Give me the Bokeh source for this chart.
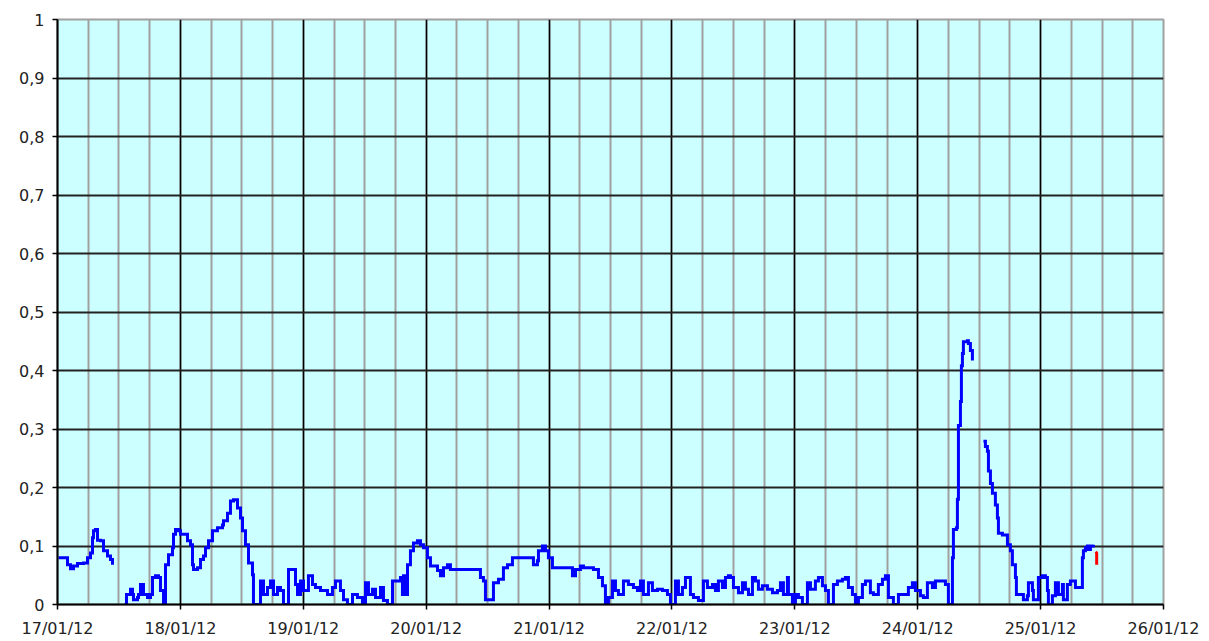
from bokeh.plotting import figure
from bokeh.models import FixedTicker, Range1d
from bokeh.embed import file_html
from bokeh.resources import INLINE

# ---- data: hours since 17/01/12 00:00 and measured values ----
seg1_hours = [0.2, 1.56, 1.95, 2.54, 3.12, 3.91, 5.08, 5.86, 6.44, 6.83, 7.03, 7.42, 7.81, 8.40, 8.98, 9.76, 10.35, 10.74]
seg1_vals = [0.08, 0.08, 0.068, 0.061, 0.066, 0.07, 0.071, 0.08, 0.088, 0.114, 0.126, 0.128, 0.11, 0.109, 0.092, 0.083, 0.077, 0.068]

seg2_hours = [13.08, 13.47, 14.26, 14.65, 14.84, 15.62, 15.82, 16.21, 16.79, 17.58, 18.16, 18.55, 19.14, 19.72, 20.11, 20.70,
              21.09, 21.68, 22.46, 22.65, 23.04, 23.63, 24.02, 24.60, 25.39, 25.97, 26.36, 26.56, 27.34, 27.93, 28.51, 28.90,
              29.49, 30.27, 31.24, 32.22, 32.42, 33.20, 33.78, 34.37, 35.15, 35.74, 36.13, 36.71, 37.30, 38.08, 38.27,
              39.06, 39.65, 40.23, 41.01, 41.60, 42.18, 42.97, 43.55, 44.13, 45.11, 45.89, 46.48, 46.87, 47.45, 48.04,
              49.01, 49.80, 50.38, 51.36, 52.73, 53.70, 54.29, 55.26, 55.85, 56.63, 57.61, 58.58, 59.56, 60.15, 60.73,
              61.51, 62.10, 63.08, 63.66, 64.44, 65.42, 66.40, 66.98, 67.37, 67.57, 67.96, 68.35, 68.93, 69.52, 70.30,
              70.89, 71.47, 72.25, 72.84, 74.21, 74.79, 75.38, 76.16, 76.74, 82.02, 82.60, 83.19, 83.58, 84.56, 85.14,
              86.12, 87.09, 87.88, 88.85, 92.76, 92.95, 93.73, 93.93, 94.71, 95.30, 95.88, 96.66, 100.18, 100.57,
              101.16, 102.13, 102.72, 104.67, 105.65, 106.43, 107.01, 107.60, 108.38, 108.97, 109.55, 110.53, 111.50,
              112.48, 113.26, 113.85, 114.43, 115.41, 116.19, 117.17, 118.14, 119.12, 119.71, 120.68, 121.27, 122.05,
              122.64, 123.22, 123.61, 124.20, 125.17, 126.15, 126.93, 127.91, 128.49, 129.08, 129.86, 130.45, 131.03,
              131.42, 132.01, 132.99, 133.77, 134.35, 134.94, 135.72, 136.31, 136.89, 137.67, 138.65, 139.63, 140.60,
              141.19, 141.77, 142.55, 142.75, 143.53, 144.12, 144.70, 145.48, 146.46, 147.05, 148.02, 148.61, 149.39,
              149.98, 150.56, 151.54, 152.32, 153.29, 153.88, 154.47, 155.25, 155.83, 156.42, 157.20, 157.79, 158.76,
              159.35, 160.32, 161.11, 161.69, 162.28, 163.25, 164.23, 165.21, 166.18, 166.96, 167.55, 168.53, 169.11,
              169.89, 170.87, 171.46, 172.43, 173.41, 173.99, 174.78, 174.97, 175.56, 175.75, 175.95, 176.34, 176.53,
              176.73, 176.92, 177.70, 177.90, 178.29, 178.68]
seg2_vals = [0.0, 0.017, 0.026, 0.017, 0.008, 0.012, 0.017, 0.034, 0.017, 0.012, 0.017, 0.046, 0.049, 0.046, 0.024, 0.0,
             0.068, 0.085, 0.097, 0.12, 0.128, 0.126, 0.12, 0.12, 0.109, 0.102, 0.068, 0.06, 0.063, 0.077, 0.083, 0.097,
             0.109, 0.126, 0.131, 0.136, 0.143, 0.156, 0.177, 0.179, 0.165, 0.148, 0.126, 0.102, 0.071, 0.051, 0.0,
             0.0, 0.04, 0.017, 0.029, 0.04, 0.017, 0.029, 0.024, 0.0, 0.06, 0.06, 0.034, 0.017, 0.04, 0.024,
             0.049, 0.034, 0.029, 0.024, 0.017, 0.029, 0.04, 0.024, 0.008, 0.0, 0.017, 0.012, 0.0, 0.037, 0.017,
             0.026, 0.012, 0.029, 0.007, 0.0, 0.04, 0.04, 0.046, 0.017, 0.049, 0.017, 0.068, 0.092, 0.105, 0.109,
             0.102, 0.097, 0.08, 0.066, 0.058, 0.049, 0.063, 0.068, 0.06, 0.06, 0.046, 0.04, 0.008, 0.008, 0.037,
             0.043, 0.063, 0.068, 0.08, 0.08, 0.068, 0.075, 0.092, 0.1, 0.092, 0.08, 0.063, 0.063, 0.049,
             0.06, 0.066, 0.063, 0.06, 0.046, 0.032, 0.0, 0.012, 0.04, 0.024, 0.017, 0.04, 0.034,
             0.029, 0.024, 0.04, 0.017, 0.037, 0.024, 0.026, 0.024, 0.017, 0.0, 0.04, 0.017, 0.029,
             0.046, 0.046, 0.017, 0.012, 0.007, 0.04, 0.029, 0.034, 0.024, 0.04, 0.029, 0.046, 0.049,
             0.046, 0.029, 0.02, 0.037, 0.026, 0.017, 0.046, 0.04, 0.026, 0.032, 0.026, 0.02, 0.024,
             0.037, 0.017, 0.046, 0.017, 0.0, 0.017, 0.012, 0.0, 0.037, 0.026, 0.04, 0.046, 0.032,
             0.024, 0.0, 0.034, 0.04, 0.043, 0.046, 0.029, 0.017, 0.0, 0.012, 0.034, 0.04, 0.02,
             0.017, 0.034, 0.043, 0.049, 0.012, 0.0, 0.017, 0.017, 0.029, 0.037, 0.024, 0.015, 0.012,
             0.037, 0.029, 0.04, 0.04, 0.034, 0.0, 0.08, 0.128, 0.131, 0.18, 0.306, 0.347, 0.408,
             0.429, 0.449, 0.451, 0.446, 0.434, 0.417]

seg3_hours = [180.83, 181.22, 181.61, 181.81, 182.20, 182.59, 183.17, 183.56, 183.76, 184.54, 185.52, 186.10, 186.49,
              187.08, 187.27, 188.05, 188.64, 189.42, 189.62, 190.40, 190.59, 191.37, 191.57, 192.35, 192.94, 193.33,
              193.52, 194.30, 194.89, 195.48, 196.26, 196.45, 197.23, 197.82, 198.80, 199.77, 200.16, 200.36, 200.75,
              201.14, 201.33, 201.73, 202.31]
seg3_vals = [0.279, 0.27, 0.262, 0.228, 0.207, 0.19, 0.17, 0.148, 0.122, 0.119, 0.102, 0.092, 0.068,
             0.046, 0.017, 0.017, 0.008, 0.015, 0.037, 0.024, 0.008, 0.008, 0.046, 0.049, 0.046, 0.024,
             0.0, 0.015, 0.037, 0.017, 0.034, 0.008, 0.034, 0.04, 0.029, 0.029, 0.08, 0.092, 0.097,
             0.1, 0.094, 0.1, 0.102]

red_hours = [202.75, 202.95, 202.95]
red_vals = [0.09, 0.088, 0.068]

x_ticks = [0, 24, 48, 72, 96, 120, 144, 168, 192, 216]
x_labels = ["17/01/12", "18/01/12", "19/01/12", "20/01/12", "21/01/12",
            "22/01/12", "23/01/12", "24/01/12", "25/01/12", "26/01/12"]
x_minor = [h for h in range(0, 217, 6)]
y_ticks = [0, 0.1, 0.2, 0.3, 0.4, 0.5, 0.6, 0.7, 0.8, 0.9, 1]
y_labels = ["0", "0,1", "0,2", "0,3", "0,4", "0,5", "0,6", "0,7", "0,8", "0,9", "1"]

p = figure(width=1208, height=640, output_backend="svg", toolbar_location=None,
           x_range=Range1d(0, 216), y_range=Range1d(0, 1),
           min_border_left=57, min_border_right=45, min_border_top=19, min_border_bottom=33)

p.background_fill_color = "#CCFFFF"
p.border_fill_color = "white"
p.outline_line_color = "#A0A0A0"
p.outline_line_width = 2

p.xaxis.ticker = FixedTicker(ticks=x_ticks, minor_ticks=x_minor)
p.yaxis.ticker = FixedTicker(ticks=y_ticks, minor_ticks=[])
p.xaxis.major_label_overrides = dict(zip(x_ticks, x_labels))
p.yaxis.major_label_overrides = dict(zip(y_ticks, y_labels))

for ax in (p.xaxis, p.yaxis):
    ax.axis_line_color = "black"
    ax.axis_line_width = 2
    ax.major_tick_line_color = "black"
    ax.major_tick_line_width = 1.5
    ax.major_tick_in = 0
    ax.major_tick_out = 5
    ax.minor_tick_line_color = None
    ax.major_label_text_font = "DejaVu Sans"
    ax.major_label_text_font_size = "16px"
    ax.major_label_text_color = "#222222"
p.xaxis.major_label_standoff = 9
p.yaxis.major_label_standoff = 8

p.xgrid.grid_line_color = "black"
p.xgrid.grid_line_width = 1.5
p.xgrid.minor_grid_line_color = "#A0A0A0"
p.xgrid.minor_grid_line_width = 2
p.ygrid.grid_line_color = "#222222"
p.ygrid.grid_line_width = 2

for hx, hv in ((seg1_hours, seg1_vals), (seg2_hours, seg2_vals), (seg3_hours, seg3_vals)):
    p.step(hx, hv, mode="after", line_color="#0000FF", line_width=3, line_join="miter")
p.line(red_hours, red_vals, line_color="#FF0000", line_width=3)

open("out.html", "w").write(file_html(p, INLINE))
